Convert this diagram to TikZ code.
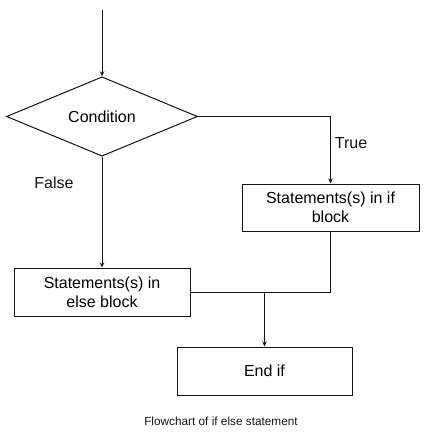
\documentclass[tikz,border=0pt]{standalone}
\usepackage{fontspec}
\setmainfont{Liberation Sans}
\usepackage{tikz}
\usetikzlibrary{shapes.geometric, arrows.meta, positioning}
\definecolor{mydark}{RGB}{20,20,20}
\tikzset{
  decision/.style={diamond, draw=mydark, inner sep=0pt,
    minimum width=191pt, minimum height=77pt, line width=1pt,
    font=\fontsize{16}{19}\selectfont},
  block/.style={rectangle, draw=mydark, inner sep=0pt, align=center,
    minimum height=47pt, line width=1pt,
    font=\fontsize{16}{19}\selectfont},
  lbl/.style={font=\fontsize{16}{19}\selectfont, text=mydark},
  arrow/.style={-{Stealth[length=5pt,width=4.5pt]}, line width=1pt, color=mydark},
  line/.style={line width=1pt, color=mydark}
}
\begin{document}
\begin{tikzpicture}[x=1pt, y=-1pt]
  \useasboundingbox (0,0) rectangle (426,436);
  \coordinate (start) at (102,10);
  \node[decision] (cond) at (102,116.5) {Condition};
  \node[block, minimum width=177pt] (ifblk) at (330.5,207.5) {Statements(s) in if\\block};
  \node[block, minimum width=176pt, minimum height=48pt] (elseblk) at (102,292) {Statements(s) in\\else block};
  \node[block, minimum width=175pt, minimum height=48pt] (endif) at (264.5,371) {End if};
  \coordinate (join) at (endif.north |- elseblk.east);

  \node[lbl] (truelbl) at (351,143) {True};
  \node[lbl] (falselbl) at (54,183) {False};
  \node[font=\fontsize{11.8}{14}\selectfont, text=mydark] (caption) at (221,421) {Flowchart of if else statement};

  \draw[arrow] (start) -- (cond.north);
  \draw[arrow] (cond.east) -| (ifblk.north);
  \draw[arrow] (cond.south) -- (elseblk.north);
  \draw[line] (ifblk.south) |- (elseblk.east);
  \draw[arrow] (join) -- (endif.north);
\end{tikzpicture}
\end{document}
